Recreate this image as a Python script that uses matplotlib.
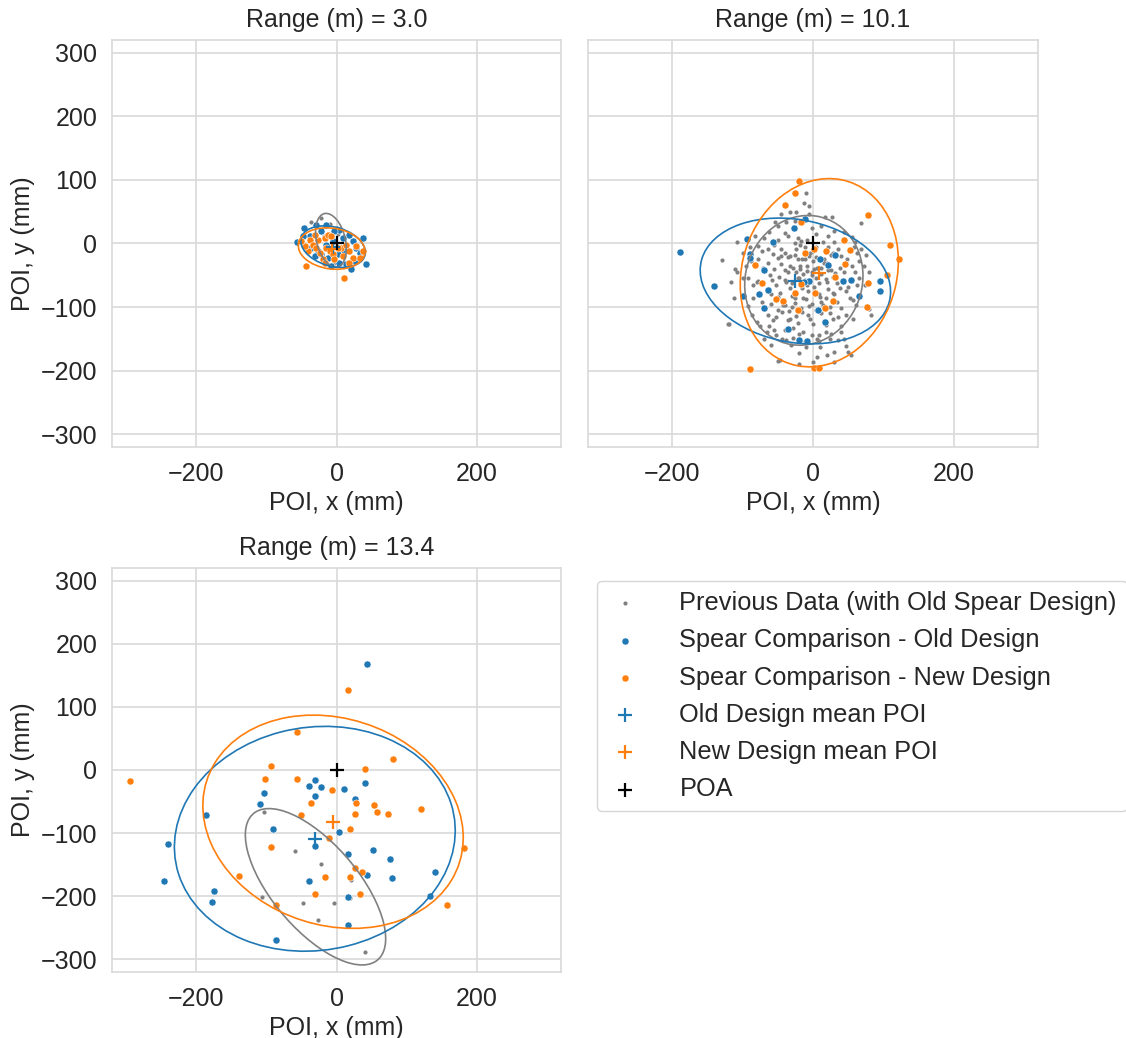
import matplotlib
matplotlib.use("Agg")
import matplotlib.pyplot as plt
from matplotlib.patches import Ellipse
import seaborn as sns

sns.set_style("whitegrid")
plt.rcParams["font.family"] = ["Liberation Sans", "DejaVu Sans"]
plt.rcParams["axes.unicode_minus"] = True

ranges = [3.0, 10.1, 13.4]

# ---- Range 3.0 m -------------------------------------------------------
prev_x_30 = [-37, -22, -10, -18, 2, 5, -3, 8, -12, 0]
prev_y_30 = [34, 40, 30, 12, 15, -15, -30, -5, -8, 25]
old_x_30 = [-46, -56, -38, -29, -15, 4, 18, 37, 42, 21, 14, 4, -12, -22, -26,
            28, 33, 23, 11, 2, -15, -5, -36, -31, -8, -22, 9, -3, -48, 26]
old_y_30 = [25, 3, 11, 29, 29, 21, 13, 9, -32, -40, -33, -31, -23, -17, -12,
            -7, -15, 4, -12, -17, -2, 4, -7, -20, -36, 20, 9, 20, 12, -28]
new_x_30 = [-43, 11, -38, -34, -29, -26, -17, -15, -10, -5, 7, 14, 18, 23, 28,
            33, -19, -41, -31, -12, -3, 2, -45, -24, 9, 18, -50, 37, -17, -8]
new_y_30 = [-36, -55, 6, -2, -7, 6, 9, -7, -12, -17, -7, -2, -12, -23, -4,
            -23, -25, -12, 14, 14, -25, -7, -4, -15, -20, -31, 4, -12, -31, 12]

# ---- Range 10.1 m ------------------------------------------------------
prev_x_101 = [-10, -13, -5, -46, -33, -24, -5, 17, 27, 69, -54, -39, -26, -108, -130,
              -111, -108, -116, -112, -120, -92,
              -50, -69, -40, -35, -50, -21, -26, -17, -2, 12, 30, 44, -62, -82, 5, 22,
              55, -8, 14, 30, 60, -55,
              -78, -73, -64, -57, -50, -40, -33, -24, -21, -64, -45, -33, -19, -78, -71,
              -90, -100, -88, -95,
              -12, 5, 22, 35, 58, 68, -4, 28, 40, 62, 75, -12, 0, 15, 48, 65, -8, 6, 38,
              55, 72,
              -92, -85, -78, -61, -52, -40, -33, -26, -14, -7, -36, -24, -14, -2, 12, 26,
              44, 60, 80, -100,
              -20, -8, 5, 20, 34, 50, 66, -62, -47, -16, 2, 8, 22, 19, 28, 38, 47, 52, 62, 74,
              -87, -80, -64, -57, -50, -40, -17, -7, 0, -33, -21, -40, -14, -2, -38, -52,
              -47, -31,
              -85, -72, -60, -44, -30, -2, 12, 40, 47, 57, 83, 28, 19, 35, 47, 9, 19, 57,
              61, 80,
              -76, -62, -28, -20, 8, 24, 40, -10, 10, 30, 50, -20, 6, 20, 54, -50, 0, 30,
              -20, -121, -70, -60, 40, 12, 24, -5, -30, -58,
              -45, -35, -25, -15, -5, 5, 15, 25, -55, -40, -28, -18, -8, 2, 12, 22, 32,
              -48, -38, -22, -12, -2, 8, 18, 28, -60, -50, -30, -10, 10, 30, -42, -26,
              -6, 14, 34, -34, -16, 4, 24, -52, -36, -24, -4, 16, 36, -66, -56, -44,
              -28, -12, 6, 26, 44, -80, -70, -46, -18, 0, 20]
prev_y_101 = [80, 64, 59, 47, 50, 50, 46, 41, 42, 32, 33, 34, 35, 3, -26,
              -40, -45, -60, -85, -127, -99,
              27, 9, 17, 12, 6, 9, 1, 4, 25, 28, 20, 18, 18, 12, 15, 12,
              10, 5, 3, 2, 2, -2,
              -4, -12, -9, -17, -23, -15, -20, -9, -25, -31, -33, -36, -36, -25, -38,
              -5, -15, -28, -35,
              -5, -5, -5, -8, -5, -8, -15, -15, -20, -15, -18, -25, -28, -30, -25, -28,
              -35, -38, -38, -35, -35,
              -54, -65, -59, -49, -65, -57, -70, -86, -86, -75, -45, -45, -48, -45, -48,
              -42, -45, -45, -45, -55,
              -55, -65, -55, -60, -62, -68, -55, -72, -78, -70, -68, -80, -72, -86, -78,
              -70, -75, -86, -65, -65,
              -112, -123, -112, -120, -104, -97, -102, -112, -126, -118, -125, -136, -139,
              -144, -152, -144, -184, -160,
              -85, -92, -95, -108, -100, -95, -92, -102, -112, -118, -112, -118, -139,
              -152, -162, -144, -128, -89, -97, -103,
              -130, -130, -133, -143, -153, -150, -140, -163, -163, -170, -170, -173, -178,
              -176, -175, -185, -186, -186, -190, -127, -150, -160, -130, -110, -100,
              -60, -62, -58,
              -20, -22, -18, -24, -20, -22, -24, -18, -40, -42, -38, -40, -44, -40, -38,
              -42, -46, -52, -60, -54, -58, -50, -62, -56, -52, -80, -84, -82, -88, -84,
              -80, -96, -94, -98, -96, -92, -106, -108, -104, -110, -116, -120, -114,
              -118, -122, -116, -140, -136, -150, -148, -154, -150, -142, -150, -60, -40,
              -8, -2, -12, -30]
old_x_101 = [-189, -141, -94, -90, -89, -100, -70, -57, -27, -11, -64, -77, -70, -36,
             -20, -9, -6, -13, 10, 22, 32, 43, 54, 7, 17, 66, 96, 95]
old_y_101 = [-13, -67, 7, -17, -23, -83, -42, 3, 24, 38, -73, -79, -102, -134,
             -152, -153, -59, -61, -24, -34, -18, -59, -57, -104, -124, -83, -59, -75]
new_x_101 = [-20, -26, -40, -17, 78, 109, 123, 106, 78, 77, 44, 53, 19, 2, -11, 46,
             31, -83, -72, -17, -26, 3, -53, -43, -21, 17, 29, -89, 1, 9]
new_y_101 = [99, 79, 61, 34, 44, -3, -24, -49, -62, -100, 5, -11, -12, -8, -15, -33,
             -52, -34, -62, -63, -78, -78, -88, -91, -104, -102, -91, -198, -196, -196]

# ---- Range 13.4 m ------------------------------------------------------
prev_x_134 = [-103, -59, -22, -48, -3, -26, 40, -106, 21, 19]
prev_y_134 = [-66, -128, -149, -211, -211, -237, -289, -201, -174, -203]
old_x_134 = [-31, -39, -22, -31, -104, -109, -186, -90, -31, -240, -246, -175, -177,
             -39, -87, 3, 44, 40, 10, 26, 16, 52, 76, 44, 79, 140, 133, 17, 16]
old_y_134 = [-16, -26, -27, -41, -36, -54, -71, -93, -120, -118, -176, -191, -209,
             -176, -269, -99, 168, -21, -30, -46, -133, -127, -141, -166, -171, -161,
             -199, -202, -246]
new_x_134 = [-294, -56, -93, -102, -56, -7, -37, -50, -11, -94, -139, -16, -31, -87,
             17, 81, 41, 27, 53, 26, 58, 73, 121, 19, 181, 26, 36, 19, 34, 158]
new_y_134 = [-17, 60, 7, -14, -15, -31, -53, -72, -108, -122, -168, -170, -197, -214,
             126, 18, 2, -52, -55, -69, -67, -69, -62, -94, -124, -156, -161, -170,
             -197, -214]

prev_x = [prev_x_30, prev_x_101, prev_x_134]
prev_y = [prev_y_30, prev_y_101, prev_y_134]
old_x = [old_x_30, old_x_101, old_x_134]
old_y = [old_y_30, old_y_101, old_y_134]
new_x = [new_x_30, new_x_101, new_x_134]
new_y = [new_y_30, new_y_101, new_y_134]

# mean points of impact per range
old_mean_x = [-5, -25, -31]
old_mean_y = [-5, -59, -109]
new_mean_x = [-7, 9, -5]
new_mean_y = [-8, -46, -82]

# dispersion ellipses: centre of previous data, widths, heights, angles (deg)
prev_center_x = [-8, -13, -30]
prev_center_y = [5, -58, -185]
prev_ell_w = [41, 167, 292]
prev_ell_h = [86, 205, 127]
prev_ell_ang = [12, -10, -54]
old_ell_w = [95, 275, 404]
old_ell_h = [61, 192, 352]
old_ell_ang = [-19, -14, 16]
new_ell_w = [96, 221, 385]
new_ell_h = [64, 299, 322]
new_ell_ang = [-10, -12, -29]

BLUE = "#1f77b4"
ORANGE = "#ff7f0e"
GRAY = "gray"
FS = 18

fig = plt.figure(figsize=(11.26, 10.38), dpi=100)
positions = [
    [0.0995, 0.5694, 0.3988, 0.3921],
    [0.5222, 0.5694, 0.3996, 0.3921],
    [0.0995, 0.0636, 0.3988, 0.3892],
]

handles = None
for i, pos in enumerate(positions):
    ax = fig.add_axes(pos)
    h_prev = ax.scatter(prev_x[i], prev_y[i], s=9, color=GRAY, linewidths=0,
                        label="Previous Data (with Old Spear Design)", zorder=2)
    h_old = ax.scatter(old_x[i], old_y[i], s=26, color=BLUE, edgecolors="white",
                       linewidths=0.4, label="Spear Comparison - Old Design", zorder=3)
    h_new = ax.scatter(new_x[i], new_y[i], s=26, color=ORANGE, edgecolors="white",
                       linewidths=0.4, label="Spear Comparison - New Design", zorder=3)
    ax.add_patch(Ellipse((prev_center_x[i], prev_center_y[i]), prev_ell_w[i],
                         prev_ell_h[i], angle=prev_ell_ang[i], fill=False,
                         edgecolor=GRAY, lw=1.2, zorder=4))
    ax.add_patch(Ellipse((old_mean_x[i], old_mean_y[i]), old_ell_w[i], old_ell_h[i],
                         angle=old_ell_ang[i], fill=False, edgecolor=BLUE, lw=1.2,
                         zorder=4))
    ax.add_patch(Ellipse((new_mean_x[i], new_mean_y[i]), new_ell_w[i], new_ell_h[i],
                         angle=new_ell_ang[i], fill=False, edgecolor=ORANGE, lw=1.2,
                         zorder=4))
    h_om = ax.scatter([old_mean_x[i]], [old_mean_y[i]], marker="+", s=110, color=BLUE,
                      linewidths=1.6, label="Old Design mean POI", zorder=5)
    h_nm = ax.scatter([new_mean_x[i]], [new_mean_y[i]], marker="+", s=110, color=ORANGE,
                      linewidths=1.6, label="New Design mean POI", zorder=5)
    h_poa = ax.scatter([0], [0], marker="+", s=110, color="black", linewidths=1.6,
                       label="POA", zorder=6)
    if handles is None:
        handles = [h_prev, h_old, h_new, h_om, h_nm, h_poa]

    ax.set_xlim(-320, 320)
    ax.set_ylim(-320, 320)
    ax.set_xticks([-200, 0, 200])
    ax.set_yticks([-300, -200, -100, 0, 100, 200, 300])
    ax.tick_params(labelsize=FS, pad=7, colors=".15")
    ax.set_title(f"Range (m) = {ranges[i]}", fontsize=FS, color=".15", pad=9)
    ax.set_xlabel("POI, x (mm)", fontsize=FS, color=".15")
    if i == 1:
        ax.set_yticklabels([])
    else:
        ax.set_ylabel("POI, y (mm)", fontsize=FS, color=".15")
    ax.grid(True, color=".85", lw=1.2)
    for sp in ax.spines.values():
        sp.set_color(".85")
        sp.set_linewidth(1.2)
    ax.set_axisbelow(True)

fig.legend(handles=handles, labels=[h.get_label() for h in handles],
           loc="upper left", bbox_to_anchor=(0.530, 0.4403), borderaxespad=0,
           fontsize=18.3, frameon=True, edgecolor=".8", labelspacing=0.52,
           borderpad=0.4, handlelength=1.4, handletextpad=1.45)

fig.savefig("out.png", dpi=100)
